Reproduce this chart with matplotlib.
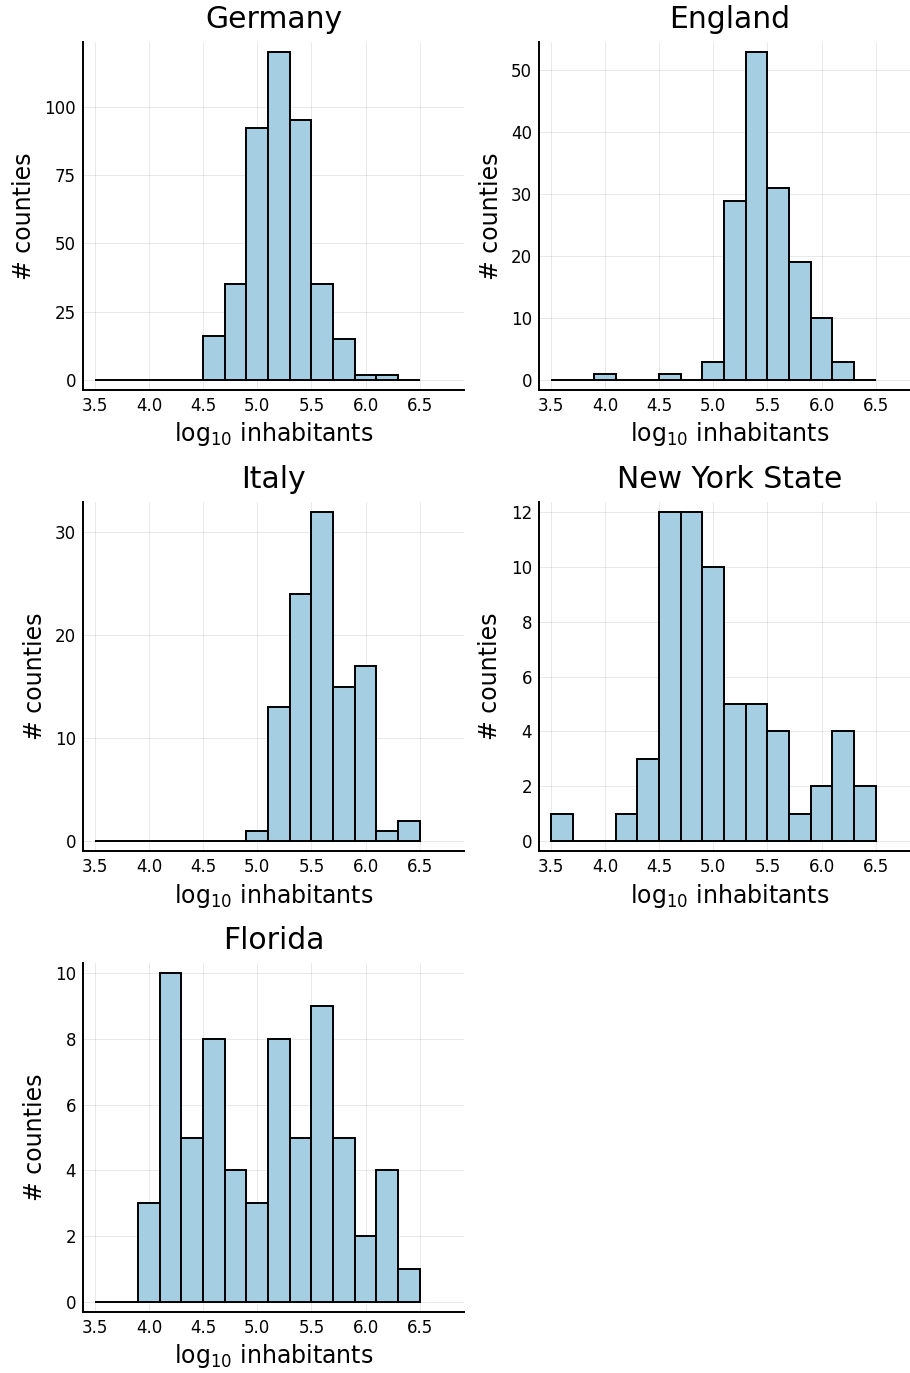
import matplotlib
matplotlib.use("Agg")
import matplotlib.pyplot as plt
import numpy as np

# bin edges: 3.5 .. 6.5 in steps of 0.2
bin_edges = np.round(np.arange(3.5, 6.5001, 0.2), 2)

germany = [0, 0, 0, 0, 0, 16, 35, 92, 120, 95, 35, 15, 2, 2, 0]
england = [0, 0, 1, 0, 0, 1, 0, 3, 29, 53, 31, 19, 10, 3, 0]
italy = [0, 0, 0, 0, 0, 0, 0, 1, 13, 24, 32, 15, 17, 1, 2]
new_york = [1, 0, 0, 1, 3, 12, 12, 10, 5, 5, 4, 1, 2, 4, 2]
florida = [0, 0, 3, 10, 5, 8, 4, 3, 8, 5, 9, 5, 2, 4, 1]

titles = ["Germany", "England", "Italy", "New York State", "Florida"]
series = [germany, england, italy, new_york, florida]
yticks = [[0, 25, 50, 75, 100], [0, 10, 20, 30, 40, 50], [0, 10, 20, 30],
          [0, 2, 4, 6, 8, 10, 12], [0, 2, 4, 6, 8, 10]]
xticks = [3.5, 4.0, 4.5, 5.0, 5.5, 6.0, 6.5]

W, H = 910, 1373
# axes boxes in pixels: left, top, right, bottom
# (right column runs slightly past the figure edge, as in the original)
boxes = [(83, 42, 464, 390), (539, 42, 920, 390),
         (83, 502, 464, 851), (539, 502, 920, 851),
         (83, 963, 464, 1312)]

plt.rcParams['font.family'] = 'DejaVu Sans'
fig = plt.figure(figsize=(W / 100, H / 100), dpi=100)

for title, counts, yt, (l, t, r, b) in zip(titles, series, yticks, boxes):
    ax = fig.add_axes([l / W, 1 - b / H, (r - l) / W, (b - t) / H])
    counts = np.array(counts)
    ax.bar(bin_edges[:-1], counts, width=np.diff(bin_edges), align='edge',
           color='#a6cee3', edgecolor='black', linewidth=1.4, zorder=3)
    top = counts.max()
    ax.set_ylim(-0.03 * top, 1.03 * top)
    ax.set_xlim(3.39, 6.91)
    ax.set_xticks(xticks)
    ax.set_xticklabels([f"{v:.1f}" for v in xticks])
    ax.set_yticks(yt)
    ax.grid(True, color='black', alpha=0.1, linewidth=0.6, zorder=0)
    for s in ['top', 'right']:
        ax.spines[s].set_visible(False)
    for s in ['left', 'bottom']:
        ax.spines[s].set_linewidth(1.4)
    ax.tick_params(length=0, labelsize=12, pad=5)
    ax.set_title(title, fontsize=21.5, pad=10)
    ax.set_xlabel(r"log$_{10}$ inhabitants", fontsize=17, labelpad=4)
    ax.set_ylabel("# counties", fontsize=17, labelpad=6)

fig.savefig("out.png", dpi=100)
